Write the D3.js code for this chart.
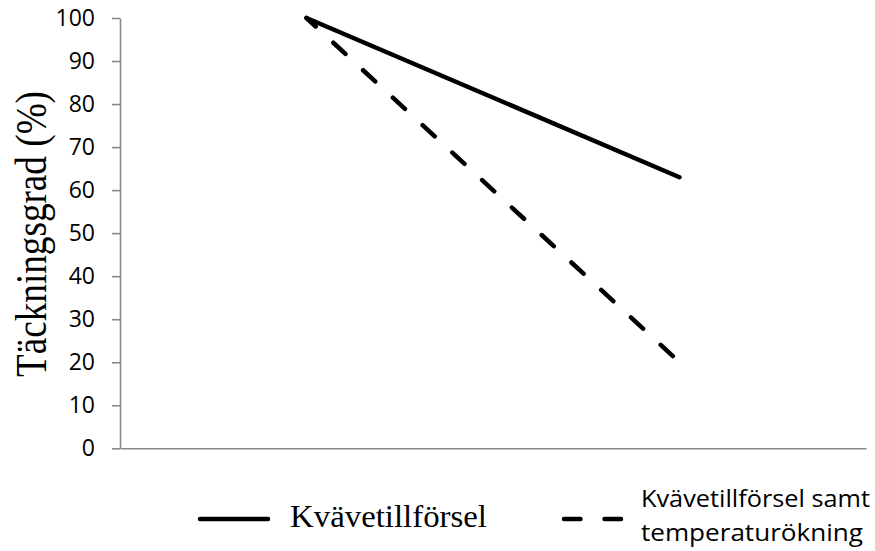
<!DOCTYPE html>
<html>
<head>
<meta charset="utf-8">
<script src="https://cdn.jsdelivr.net/npm/d3@7"></script>
<style>
  body { margin: 0; background: white; }
</style>
</head>
<body>
<div id="vis"></div>
<script>
// Data
const categories = ["Före", "Efter"]
const kvavetillforsel = [100, 63]
const kvaveOchTemperatur = [100, 20]
const yTicks = [0, 10, 20, 30, 40, 50, 60, 70, 80, 90, 100]
const yLabel = "Täckningsgrad (%)"
const legendSolid = "Kvävetillförsel"
const legendDashed = ["Kvävetillförsel samt", "temperaturökning"]

const WIDTH = 875
const HEIGHT = 551
const AXIS_COLOR = "#898989"

const SVG = d3.select("#vis")
    .append("svg")
    .attr("width", WIDTH)
    .attr("height", HEIGHT);

// Scales
const escalaX = d3.scalePoint()
    .domain(categories)
    .range([120, 866])
    .padding(0.5);

const escalaY = d3.scaleLinear()
    .domain([0, 100])
    .range([448.3, 18]);

// Y axis
const ejeY = SVG.append("g")
    .attr("transform", "translate(120, 0)")
    .call(d3.axisLeft(escalaY).tickValues(yTicks).tickSize(8).tickSizeOuter(0).tickPadding(17))

ejeY.select(".domain").attr("stroke", AXIS_COLOR).attr("stroke-width", 1.6)
ejeY.selectAll(".tick line").attr("stroke", AXIS_COLOR).attr("stroke-width", 1.6)
ejeY.selectAll(".tick text")
    .attr("fill", "black")
    .style("font-family", "'Open Sans', sans-serif")
    .style("font-size", "23px")

// X axis, no labels
const ejeX = SVG.append("g")
    .attr("transform", `translate(0, ${escalaY(0)})`)
    .call(d3.axisBottom(escalaX).tickValues([]).tickSizeOuter(0))

ejeX.select(".domain").attr("stroke", AXIS_COLOR).attr("stroke-width", 1.6)

// Y label
SVG.append("text")
    .attr("transform", "translate(46, 234) rotate(-90)")
    .attr("text-anchor", "middle")
    .attr("textLength", 286)
    .attr("lengthAdjust", "spacingAndGlyphs")
    .style("font-family", "'Liberation Serif', 'Times New Roman', serif")
    .style("font-size", "45px")
    .text(yLabel)

// Lines
const linea = d3.line()
    .x((d, i) => escalaX(categories[i]))
    .y(d => escalaY(d))

SVG.append("path")
    .attr("d", linea(kvavetillforsel))
    .attr("fill", "none")
    .attr("stroke", "black")
    .attr("stroke-width", 4.5)
    .attr("stroke-linecap", "round")

SVG.append("path")
    .attr("d", linea(kvaveOchTemperatur))
    .attr("fill", "none")
    .attr("stroke", "black")
    .attr("stroke-width", 4.5)
    .attr("stroke-linecap", "round")
    .attr("stroke-dasharray", "16.5,24")
    .attr("stroke-dashoffset", 4)

// Legend
const leyenda = SVG.append("g")

leyenda.append("line")
    .attr("x1", 200).attr("x2", 268)
    .attr("y1", 519).attr("y2", 519)
    .attr("stroke", "black")
    .attr("stroke-width", 4.5)
    .attr("stroke-linecap", "round")

leyenda.append("text")
    .attr("x", 290)
    .attr("y", 527)
    .attr("textLength", 197)
    .attr("lengthAdjust", "spacingAndGlyphs")
    .style("font-family", "'Liberation Serif', 'Times New Roman', serif")
    .style("font-size", "31px")
    .text(legendSolid)

leyenda.append("line")
    .attr("x1", 564).attr("x2", 622)
    .attr("y1", 519).attr("y2", 519)
    .attr("stroke", "black")
    .attr("stroke-width", 4.5)
    .attr("stroke-linecap", "round")
    .attr("stroke-dasharray", "16.5,24")

leyenda.selectAll(".leg-dashed")
    .data(legendDashed)
    .join("text")
    .attr("class", "leg-dashed")
    .attr("x", 641)
    .attr("y", (d, i) => 507 + i * 33.5)
    .attr("textLength", (d, i) => i == 0 ? 229 : 222)
    .attr("lengthAdjust", "spacingAndGlyphs")
    .style("font-family", "'Open Sans', sans-serif")
    .style("font-size", "24px")
    .text(d => d)
</script>
</body>
</html>
